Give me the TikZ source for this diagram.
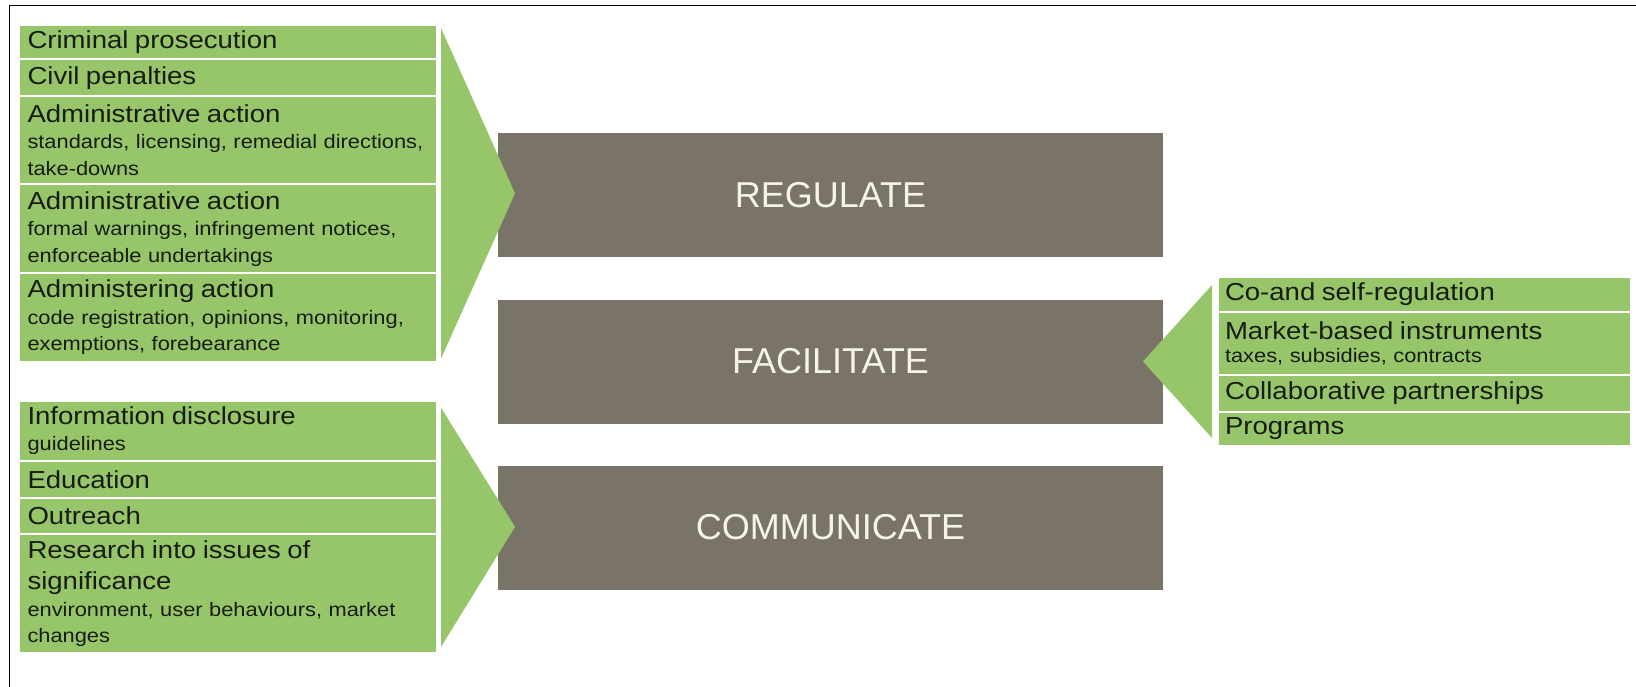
\documentclass[tikz,border=0pt]{standalone}
\usepackage{fontspec}
\setmainfont{Liberation Sans}
\newfontfamily\listfont{Liberation Sans}[FakeStretch=1.12]
\usetikzlibrary{positioning,calc}

\definecolor{leafgreen}{RGB}{151,198,106}
\definecolor{stonegray}{RGB}{122,116,104}
\definecolor{creamtext}{RGB}{246,243,232}
\definecolor{inkdark}{RGB}{24,28,18}

\newcommand{\rowhead}[1]{{\fontsize{24.6}{31}\selectfont #1}}

\begin{document}
\begin{tikzpicture}[x=1pt, y=-1pt,
    listrow/.style={fill=leafgreen, draw=white, line width=2pt, outer sep=0pt, inner ysep=0pt, align=left, text=inkdark, font=\listfont\fontsize{19.5}{26.5}\selectfont},
    leftrow/.style={listrow, inner xsep=9pt, text width=400.5pt},
    rightrow/.style={listrow, inner xsep=7pt, text width=399pt},
    actbox/.style={fill=stonegray, minimum width=665pt, minimum height=124pt, outer sep=0pt, text=creamtext, font=\fontsize{36}{40}\selectfont}]
  \useasboundingbox (0,0) rectangle (1636,687);
  \draw[line width=1.5pt] (1636,5.5) -- (9.5,5.5) -- (9.5,687);

  % regulatory responses
  \node[actbox] (reg) at (830.5,195.5) {REGULATE};
  \node[actbox, below=42pt of reg] (fac) {FACILITATE};
  \node[actbox, below=42pt of fac] (com) {COMMUNICATE};

  % enforcement list
  \node[leftrow, anchor=north west, minimum height=34.5pt] (r1) at (18.5,25) {\rowhead{Criminal prosecution}};
  \node[leftrow, minimum height=36.5pt, below=0pt of r1] (r2) {\rowhead{Civil penalties}};
  \node[leftrow, minimum height=88.3pt, below=0pt of r2] (r3) {\rowhead{Administrative action}\\standards, licensing, remedial directions,\\take-downs};
  \node[leftrow, minimum height=88.7pt, below=0pt of r3] (r4) {\rowhead{Administrative action}\\formal warnings, infringement notices,\\enforceable undertakings};
  \node[leftrow, minimum height=88.7pt, below=0pt of r4] (r5) {\rowhead{Administering action}\\code registration, opinions, monitoring,\\exemptions, forebearance};
  \coordinate (tipR) at ($(r1.north east)!0.5!(r5.south east)+(78,0)$);
  \fill[leafgreen] ($(r1.north east)+(4,3)$) -- (tipR) -- ($(r5.south east)+(4,-3)$) -- cycle;

  % communication list
  \node[leftrow, anchor=north west, minimum height=60.3pt] (c1) at (18.5,400.7) {\rowhead{Information disclosure}\\guidelines};
  \node[leftrow, minimum height=36.5pt, below=0pt of c1] (c2) {\rowhead{Education}};
  \node[leftrow, minimum height=36.5pt, below=0pt of c2] (c3) {\rowhead{Outreach}};
  \node[leftrow, minimum height=119pt, below=0pt of c3] (c4) {\rowhead{Research into issues of}\\[5pt]\rowhead{significance}\\environment, user behaviours, market\\changes};
  \coordinate (tipC) at ($(c1.north east)!0.5!(c4.south east)+(78,0)$);
  \fill[leafgreen] ($(c1.north east)+(4,7)$) -- (tipC) -- ($(c4.south east)+(4,-6)$) -- cycle;

  % facilitation list
  \node[rightrow, anchor=north west, minimum height=35pt] (f1) at (1218,277) {\rowhead{Co-and self-regulation}};
  \node[rightrow, minimum height=63pt, below=0pt of f1] (f2) {\rowhead{Market-based instruments}\\[-3pt]taxes, subsidies, contracts};
  \node[rightrow, minimum height=37pt, below=0pt of f2] (f3) {\rowhead{Collaborative partnerships}};
  \node[rightrow, minimum height=34pt, below=0pt of f3] (f4) {\rowhead{Programs}};
  \coordinate (tipF) at ($(f1.north west)!0.5!(f4.south west)+(-75,0)$);
  \fill[leafgreen] ($(f1.north west)+(-6,8)$) -- (tipF) -- ($(f4.south west)+(-6,-8)$) -- cycle;
\end{tikzpicture}
\end{document}
